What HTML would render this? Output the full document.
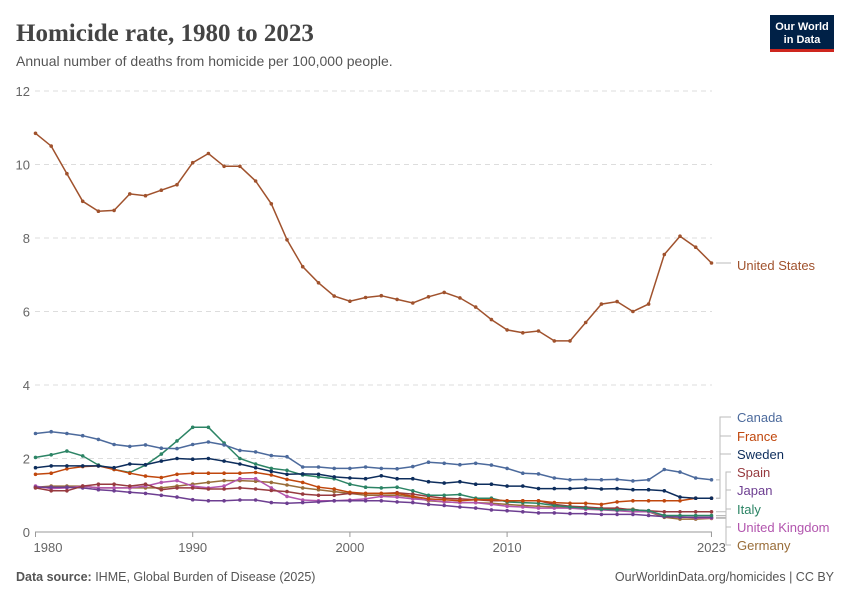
<!DOCTYPE html>
<html><head><meta charset="utf-8"><style>
body{margin:0;background:#fff;width:850px;height:600px;overflow:hidden;font-family:"Liberation Sans",sans-serif}
</style></head><body>
<svg id="c" width="850" height="600" xmlns="http://www.w3.org/2000/svg">
<text x="16" y="41" font-family="Liberation Serif,serif" font-size="25" fill="#444" font-weight="bold">Homicide rate, 1980 to 2023</text>
<text x="16" y="66" font-size="14" fill="#555">Annual number of deaths from homicide per 100,000 people.</text>
<rect x="770" y="15" width="64" height="37" fill="#002147"/>
<rect x="770" y="49" width="64" height="3" fill="#ce261e"/>
<text x="802" y="30" font-size="11" fill="#fff" text-anchor="middle" font-weight="bold">Our World</text>
<text x="802" y="43" font-size="11" fill="#fff" text-anchor="middle" font-weight="bold">in Data</text>
<text x="16" y="581" font-size="12.5" fill="#555"><tspan font-weight="bold">Data source:</tspan> IHME, Global Burden of Disease (2025)</text>
<text x="834" y="581" font-size="12.5" fill="#555" text-anchor="end">OurWorldinData.org/homicides | CC BY</text>
<g id="g"></g>
</svg>
<script>
var g=document.getElementById('g'),s='';
function X(y){return 35.5+(y-1980)*15.72}function Y(v){return 532-v*36.75}
[2,4,6,8,10,12].forEach(function(v){s+='<line x1="35" x2="712" y1="'+Y(v)+'" y2="'+Y(v)+'" stroke="#ddd" stroke-dasharray="5,4"/><text x="30" y="'+(Y(v)+5)+'" font-size="13" fill="#666" text-anchor="end">'+v+'</text>';});
s+='<text x="30" y="537" font-size="13" fill="#666" text-anchor="end">0</text>';
s+='<line x1="35" x2="712" y1="532" y2="532" stroke="#999"/>';
[[1980,48],[1990,193],[2000,350],[2010,508],[2023,697]].forEach(function(a){s+='<line x1="'+X(a[0])+'" x2="'+X(a[0])+'" y1="532" y2="537" stroke="#999"/><text x="'+(a[0]==1980?48:X(a[0]))+'" y="552" font-size="13" fill="#666" text-anchor="middle">'+a[0]+'</text>';});
var D=[
["United States","#a0522d",[10.85,10.5,9.75,9.0,8.73,8.75,9.2,9.15,9.3,9.45,10.05,10.3,9.95,9.95,9.55,8.93,7.95,7.22,6.78,6.42,6.28,6.38,6.43,6.33,6.23,6.4,6.52,6.37,6.12,5.78,5.5,5.42,5.47,5.2,5.2,5.7,6.2,6.27,6.0,6.2,7.55,8.05,7.75,7.32],265],
["Germany","#996d39",[1.22,1.25,1.25,1.25,1.2,1.2,1.2,1.2,1.2,1.25,1.3,1.35,1.4,1.4,1.38,1.35,1.28,1.2,1.15,1.1,1.05,1.0,1.0,1.0,0.95,0.85,0.82,0.8,0.8,0.78,0.75,0.72,0.7,0.68,0.65,0.65,0.62,0.62,0.62,0.55,0.4,0.35,0.35,0.37],545],
["United Kingdom","#b255ae",[1.25,1.18,1.2,1.25,1.2,1.2,1.2,1.25,1.35,1.4,1.25,1.2,1.25,1.45,1.45,1.2,0.97,0.87,0.85,0.85,0.87,0.9,0.97,0.95,0.9,0.87,0.82,0.8,0.8,0.75,0.7,0.68,0.65,0.65,0.65,0.62,0.6,0.58,0.55,0.55,0.45,0.42,0.38,0.38],527],
["Japan","#6d3e91",[1.22,1.22,1.22,1.2,1.15,1.12,1.08,1.05,1.0,0.95,0.88,0.85,0.85,0.87,0.87,0.8,0.78,0.8,0.82,0.85,0.85,0.85,0.85,0.82,0.8,0.75,0.72,0.68,0.65,0.6,0.58,0.55,0.52,0.52,0.5,0.5,0.48,0.48,0.48,0.45,0.42,0.4,0.4,0.4],490],
["Spain","#973a3f",[1.2,1.12,1.12,1.25,1.3,1.3,1.25,1.3,1.15,1.2,1.2,1.17,1.17,1.2,1.17,1.13,1.1,1.03,1.0,1.0,1.05,1.05,1.05,1.07,1.03,0.97,0.92,0.9,0.88,0.85,0.85,0.85,0.85,0.75,0.7,0.68,0.65,0.65,0.6,0.58,0.55,0.55,0.55,0.55],472],
["Italy","#2c8465",[2.03,2.1,2.2,2.07,1.82,1.7,1.62,1.82,2.12,2.48,2.85,2.85,2.42,2.0,1.85,1.73,1.68,1.55,1.5,1.45,1.3,1.22,1.2,1.22,1.12,1.0,1.0,1.02,0.92,0.92,0.82,0.8,0.78,0.72,0.68,0.65,0.62,0.6,0.6,0.58,0.45,0.45,0.45,0.45],509],
["France","#c0470d",[1.57,1.6,1.72,1.78,1.8,1.7,1.6,1.52,1.48,1.57,1.6,1.6,1.6,1.6,1.62,1.55,1.43,1.35,1.22,1.17,1.08,1.05,1.05,1.05,0.97,0.9,0.88,0.85,0.88,0.88,0.85,0.85,0.85,0.8,0.78,0.78,0.75,0.82,0.85,0.85,0.85,0.85,0.92,0.92],436],
["Sweden","#0d2d5c",[1.75,1.8,1.8,1.8,1.8,1.75,1.85,1.83,1.93,2.0,1.98,2.0,1.93,1.85,1.75,1.65,1.57,1.58,1.57,1.5,1.47,1.45,1.53,1.45,1.45,1.37,1.33,1.37,1.3,1.3,1.25,1.25,1.18,1.18,1.18,1.2,1.17,1.18,1.15,1.15,1.12,0.95,0.92,0.92],454],
["Canada","#4c6a9c",[2.68,2.73,2.68,2.62,2.52,2.38,2.33,2.37,2.28,2.27,2.38,2.45,2.37,2.22,2.18,2.08,2.05,1.77,1.77,1.73,1.73,1.77,1.73,1.72,1.78,1.9,1.87,1.83,1.87,1.82,1.73,1.6,1.58,1.47,1.42,1.43,1.42,1.43,1.39,1.42,1.7,1.63,1.47,1.42],417]];
D.forEach(function(d){var p=d[2].map(function(v,i){return X(1980+i).toFixed(1)+','+Y(v).toFixed(1)});
s+='<polyline points="'+p.join(' ')+'" fill="none" stroke="'+d[1]+'" stroke-width="1.5"/>';
p.forEach(function(q){var a=q.split(',');s+='<circle cx="'+a[0]+'" cy="'+a[1]+'" r="1.8" fill="'+d[1]+'"/>';});
var ey=Y(d[2][43]),ly=d[3];
if(d[0]=="United States"){s+='<line x1="716" x2="731" y1="'+ey+'" y2="'+ey+'" stroke="#bbb"/>';}
else{var mx=d[3]<460?720:726;s+='<polyline points="716,'+ey+' '+mx+','+ey+' '+mx+','+ly+' 731,'+ly+'" fill="none" stroke="#bbb"/>';}
s+='<text x="737" y="'+(d[3]+5)+'" font-size="13" fill="'+d[1]+'">'+d[0]+'</text>';});
g.innerHTML=s;
</script>
</body></html>
